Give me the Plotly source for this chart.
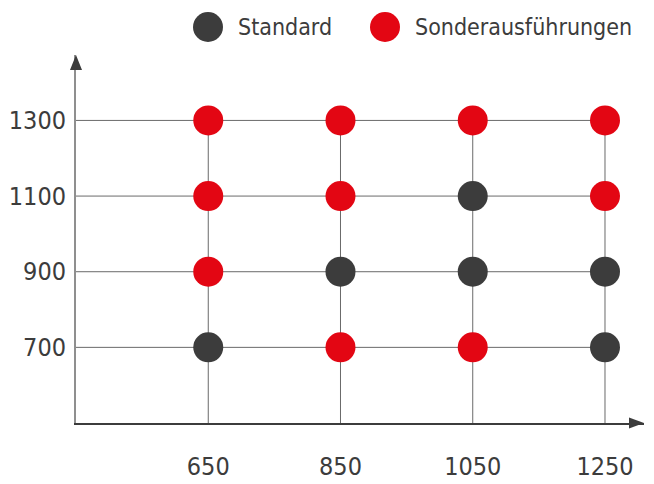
import plotly.graph_objects as go

# ---- data ----
x_cats = [650, 850, 1050, 1250]
y_cats = [700, 900, 1100, 1300]
standard_x = [650, 850, 1050, 1050, 1250, 1250]
standard_y = [700, 900, 900, 1100, 900, 700]
sonder_x = [650, 650, 650, 850, 850, 850, 1050, 1050, 1250, 1250]
sonder_y = [900, 1100, 1300, 700, 1100, 1300, 700, 1300, 1100, 1300]
series_names = ["Standard", "Sonderausführungen"]

# ---- style ----
W, H = 654, 484
ML, MR, MT, MB = 76, 10, 55, 61
DARK = "#3c3c3c"
RED = "#e30613"
AXIS = "#8f8f8f"
GRID = "#6a6a6a"
FONT = "DejaVu Sans Condensed, Liberation Sans Narrow, sans-serif"
TICK_SIZE = 25
LEG_SIZE = 23
X_MIN, X_MAX = 450, 1309
Y_MIN, Y_MAX = 500, 1473

pw = W - ML - MR
ph = H - MT - MB


def px_x(p):
    return (p - ML) / pw


def px_y(p):
    return (H - MB - p) / ph


fig = go.Figure()

# grid lines limited to the data region
gx, gy = [], []
for yv in y_cats:
    gx += [X_MIN, max(x_cats), None]
    gy += [yv, yv, None]
for xv in x_cats:
    gx += [xv, xv, None]
    gy += [Y_MIN, max(y_cats), None]
fig.add_trace(go.Scatter(x=gx, y=gy, mode="lines", line=dict(color=GRID, width=1),
                         hoverinfo="skip", showlegend=False))

fig.add_trace(go.Scatter(x=standard_x, y=standard_y, mode="markers", name=series_names[0],
                         marker=dict(size=30, color=DARK, line=dict(width=0)), showlegend=False))
fig.add_trace(go.Scatter(x=sonder_x, y=sonder_y, mode="markers", name=series_names[1],
                         marker=dict(size=30, color=RED, line=dict(width=0)), showlegend=False))

shapes = []
# axis arrows
shapes.append(dict(type="path", xref="paper", yref="paper", xsizemode="pixel", ysizemode="pixel",
                   xanchor=1, yanchor=0, path="M -15 -5.5 L 0 0 L -15 5.5 Z",
                   fillcolor=DARK, line=dict(width=0)))
shapes.append(dict(type="path", xref="paper", yref="paper", xsizemode="pixel", ysizemode="pixel",
                   xanchor=0, yanchor=1, path="M -6 -15 L 0 0 L 6 -15 Z",
                   fillcolor=DARK, line=dict(width=0)))

# custom legend
annotations = []
legend_items = [(208, 236, DARK, series_names[0]), (385, 413, RED, series_names[1])]
for cx, tx, col, name in legend_items:
    shapes.append(dict(type="circle", xref="paper", yref="paper", xsizemode="pixel", ysizemode="pixel",
                       xanchor=px_x(cx), yanchor=px_y(27), x0=-15, x1=15, y0=-15, y1=15,
                       fillcolor=col, line=dict(width=0)))
    annotations.append(dict(x=px_x(tx), y=px_y(27), xref="paper", yref="paper", text=name,
                            showarrow=False, xanchor="left", yanchor="middle",
                            font=dict(family=FONT, size=LEG_SIZE, color=DARK)))

fig.update_layout(
    width=W, height=H,
    margin=dict(l=ML, r=MR, t=MT, b=MB),
    paper_bgcolor="white", plot_bgcolor="white",
    showlegend=False,
    shapes=shapes, annotations=annotations,
    font=dict(family=FONT, size=TICK_SIZE, color=DARK),
)
fig.update_xaxes(range=[X_MIN, X_MAX], tickvals=x_cats, ticktext=[str(v) for v in x_cats],
                 showgrid=False, zeroline=False, showline=True, linecolor=DARK, linewidth=2,
                 ticks="outside", ticklen=20, tickcolor="rgba(0,0,0,0)", automargin=False,
                 tickfont=dict(family=FONT, size=TICK_SIZE, color=DARK))
fig.update_yaxes(range=[Y_MIN, Y_MAX], tickvals=y_cats, ticktext=[str(v) for v in y_cats],
                 showgrid=False, zeroline=False, showline=True, linecolor=AXIS, linewidth=2,
                 ticks="outside", ticklen=3, tickcolor="rgba(0,0,0,0)", automargin=False,
                 tickfont=dict(family=FONT, size=TICK_SIZE, color=DARK))

fig.write_html("out.html", config={"displayModeBar": False},
               post_script="document.body.style.margin='0';document.body.style.overflow='hidden';")
